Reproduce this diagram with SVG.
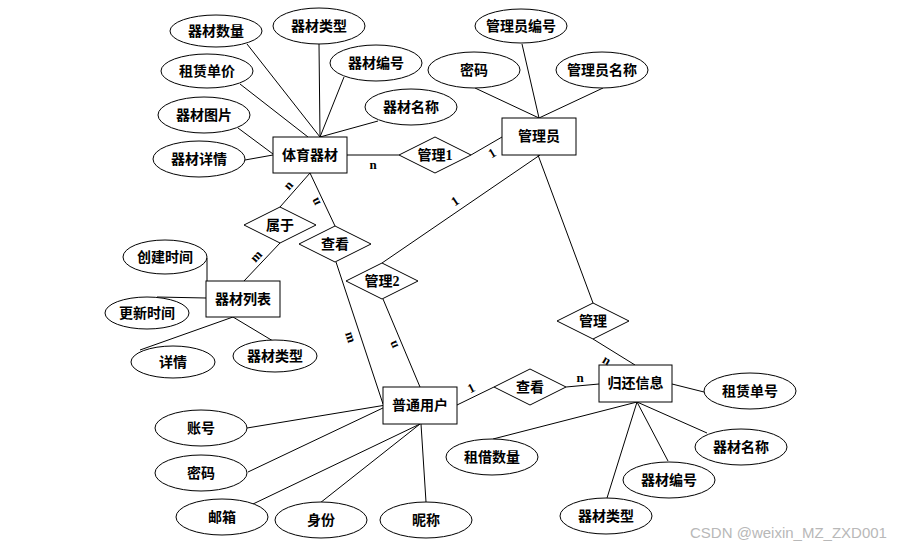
<svg xmlns="http://www.w3.org/2000/svg" width="898" height="548" viewBox="0 0 898 548">
<style>
.bg{fill:#fff}
.c line{stroke:#000;stroke-width:1;fill:none}
.n ellipse,.n rect,.n polygon{fill:#fff;stroke:#000;stroke-width:1}
.n text{font-family:"Liberation Serif","Noto Sans CJK SC",serif;font-weight:bold;font-size:14px;text-anchor:middle;dominant-baseline:central;fill:#000}
.lb text{font-family:"Liberation Serif",serif;font-weight:bold;font-size:13px;text-anchor:middle;dominant-baseline:central;fill:#000}
.wm{font-family:"Liberation Sans",sans-serif;font-size:15px;fill:#b8b8b8}
</style>
<rect class="bg" x="0" y="0" width="898" height="548"/>
<g id="connectors" class="c">
<line x1="247" y1="44" x2="320" y2="137"/>
<line x1="319" y1="44" x2="320" y2="137"/>
<line x1="344" y1="77" x2="320" y2="137"/>
<line x1="378" y1="121" x2="320" y2="137"/>
<line x1="240" y1="84" x2="308" y2="137"/>
<line x1="238" y1="128" x2="273" y2="154"/>
<line x1="245" y1="160" x2="273" y2="155"/>
<line x1="347" y1="155" x2="399" y2="155"/>
<line x1="471" y1="155" x2="502" y2="137"/>
<line x1="522" y1="44" x2="539" y2="118"/>
<line x1="475" y1="88" x2="539" y2="118"/>
<line x1="603" y1="88" x2="539" y2="118"/>
<line x1="540" y1="155" x2="382" y2="263"/>
<line x1="538" y1="155" x2="593" y2="303"/>
<line x1="593" y1="339" x2="635" y2="365"/>
<line x1="310" y1="173" x2="280" y2="207"/>
<line x1="310" y1="173" x2="335" y2="226"/>
<line x1="280" y1="243" x2="244" y2="281"/>
<line x1="207" y1="258" x2="207" y2="281"/>
<line x1="157" y1="297" x2="206" y2="298"/>
<line x1="140" y1="350" x2="233" y2="317"/>
<line x1="273" y1="341" x2="233" y2="317"/>
<line x1="336" y1="262" x2="383" y2="404"/>
<line x1="383" y1="299" x2="420" y2="387"/>
<line x1="457" y1="405" x2="494" y2="387"/>
<line x1="566" y1="387" x2="599" y2="384"/>
<line x1="247" y1="428" x2="386" y2="405"/>
<line x1="248" y1="472" x2="385" y2="407"/>
<line x1="253" y1="504" x2="420" y2="424"/>
<line x1="320" y1="503" x2="420" y2="424"/>
<line x1="426" y1="502" x2="421" y2="424"/>
<line x1="672" y1="384" x2="704" y2="392"/>
<line x1="493" y1="439" x2="637" y2="402"/>
<line x1="607" y1="498" x2="637" y2="402"/>
<line x1="668" y1="461" x2="637" y2="402"/>
<line x1="707" y1="433" x2="637" y2="402"/>
</g>
<g class="n">
<g id="e-tiyu"><rect x="273" y="137" width="74" height="36"/><text x="310" y="155">体育器材</text></g>
<g id="e-admin"><rect x="502" y="118" width="74" height="37"/><text x="539" y="136.5">管理员</text></g>
<g id="e-list"><rect x="206" y="281" width="74" height="36"/><text x="243" y="299">器材列表</text></g>
<g id="e-user"><rect x="383" y="387" width="74" height="37"/><text x="420" y="405.5">普通用户</text></g>
<g id="e-return"><rect x="599" y="365" width="73" height="37"/><text x="635.5" y="383.5">归还信息</text></g>

<g id="r-guanli1"><polygon points="399,155 435,137 471,155 435,173"/><text x="435" y="155">管理1</text></g>
<g id="r-shuyu"><polygon points="244,225 280,207 316,225 280,243"/><text x="280" y="225">属于</text></g>
<g id="r-chakan1"><polygon points="299,244 335,226 371,244 335,262"/><text x="335" y="244">查看</text></g>
<g id="r-guanli2"><polygon points="346,281 382,263 418,281 382,299"/><text x="382" y="281">管理2</text></g>
<g id="r-guanli"><polygon points="557,321 593,303 629,321 593,339"/><text x="593" y="321">管理</text></g>
<g id="r-chakan2"><polygon points="494,387 530,369 566,387 530,405"/><text x="530" y="387">查看</text></g>

<g id="a-qcsl"><ellipse cx="216" cy="31" rx="46" ry="16"/><text x="216" y="31">器材数量</text></g>
<g id="a-qclx"><ellipse cx="319" cy="26" rx="46" ry="18"/><text x="319" y="26">器材类型</text></g>
<g id="a-zldj"><ellipse cx="207" cy="71" rx="46" ry="17"/><text x="207" y="71">租赁单价</text></g>
<g id="a-qcbh"><ellipse cx="376" cy="63" rx="46" ry="18"/><text x="376" y="63">器材编号</text></g>
<g id="a-qctp"><ellipse cx="204" cy="115" rx="46" ry="18"/><text x="204" y="115">器材图片</text></g>
<g id="a-qcmc"><ellipse cx="411" cy="107" rx="46" ry="18"/><text x="411" y="107">器材名称</text></g>
<g id="a-qcxq"><ellipse cx="199" cy="159" rx="46" ry="18"/><text x="199" y="159">器材详情</text></g>

<g id="a-glybh"><ellipse cx="521" cy="26" rx="46" ry="17"/><text x="521" y="26">管理员编号</text></g>
<g id="a-mm1"><ellipse cx="474" cy="70" rx="46" ry="18"/><text x="474" y="70">密码</text></g>
<g id="a-glymc"><ellipse cx="602" cy="70" rx="46" ry="18"/><text x="602" y="70">管理员名称</text></g>

<g id="a-cjsj"><ellipse cx="165" cy="257" rx="42" ry="17"/><text x="165" y="257">创建时间</text></g>
<g id="a-gxsj"><ellipse cx="147" cy="313" rx="42" ry="16"/><text x="147" y="313">更新时间</text></g>
<g id="a-xq"><ellipse cx="173" cy="362" rx="42" ry="16"/><text x="173" y="362">详情</text></g>
<g id="a-qclx2"><ellipse cx="275" cy="356" rx="42" ry="16"/><text x="275" y="356">器材类型</text></g>

<g id="a-zh"><ellipse cx="201" cy="428" rx="46" ry="18"/><text x="201" y="428">账号</text></g>
<g id="a-mm2"><ellipse cx="201" cy="473" rx="46" ry="18"/><text x="201" y="473">密码</text></g>
<g id="a-yx"><ellipse cx="222" cy="517" rx="46" ry="18"/><text x="222" y="517">邮箱</text></g>
<g id="a-sf"><ellipse cx="321" cy="520" rx="46" ry="18"/><text x="321" y="520">身份</text></g>
<g id="a-nc"><ellipse cx="426" cy="520" rx="46" ry="18"/><text x="426" y="520">昵称</text></g>

<g id="a-zldh"><ellipse cx="750" cy="391" rx="46" ry="18"/><text x="750" y="391">租赁单号</text></g>
<g id="a-zjsl"><ellipse cx="492" cy="457" rx="46" ry="18"/><text x="492" y="457">租借数量</text></g>
<g id="a-qclx3"><ellipse cx="606" cy="516" rx="46" ry="18"/><text x="606" y="516">器材类型</text></g>
<g id="a-qcbh2"><ellipse cx="669" cy="480" rx="46" ry="18"/><text x="669" y="480">器材编号</text></g>
<g id="a-qcmc2"><ellipse cx="741" cy="447" rx="46" ry="18"/><text x="741" y="447">器材名称</text></g>
</g>
<g id="labels" class="lb">
<text x="373" y="164">n</text>
<text x="492" y="153" transform="rotate(-31 492 153)">1</text>
<text x="288" y="185" transform="rotate(-48 288 185)">n</text>
<text x="315" y="202" transform="rotate(-116 315 202)">n</text>
<text x="256" y="256" transform="rotate(-47 256 256)">m</text>
<text x="455" y="201" transform="rotate(-34 455 201)">1</text>
<text x="351" y="337" transform="rotate(72 351 337)">m</text>
<text x="393" y="345" transform="rotate(-113 393 345)">n</text>
<text x="607" y="360" transform="rotate(31 607 360)">n</text>
<text x="471" y="388" transform="rotate(-27 471 388)">1</text>
<text x="580" y="377">n</text>
</g>
<text class="wm" x="690" y="538">CSDN @weixin_MZ_ZXD001</text>
</svg>
